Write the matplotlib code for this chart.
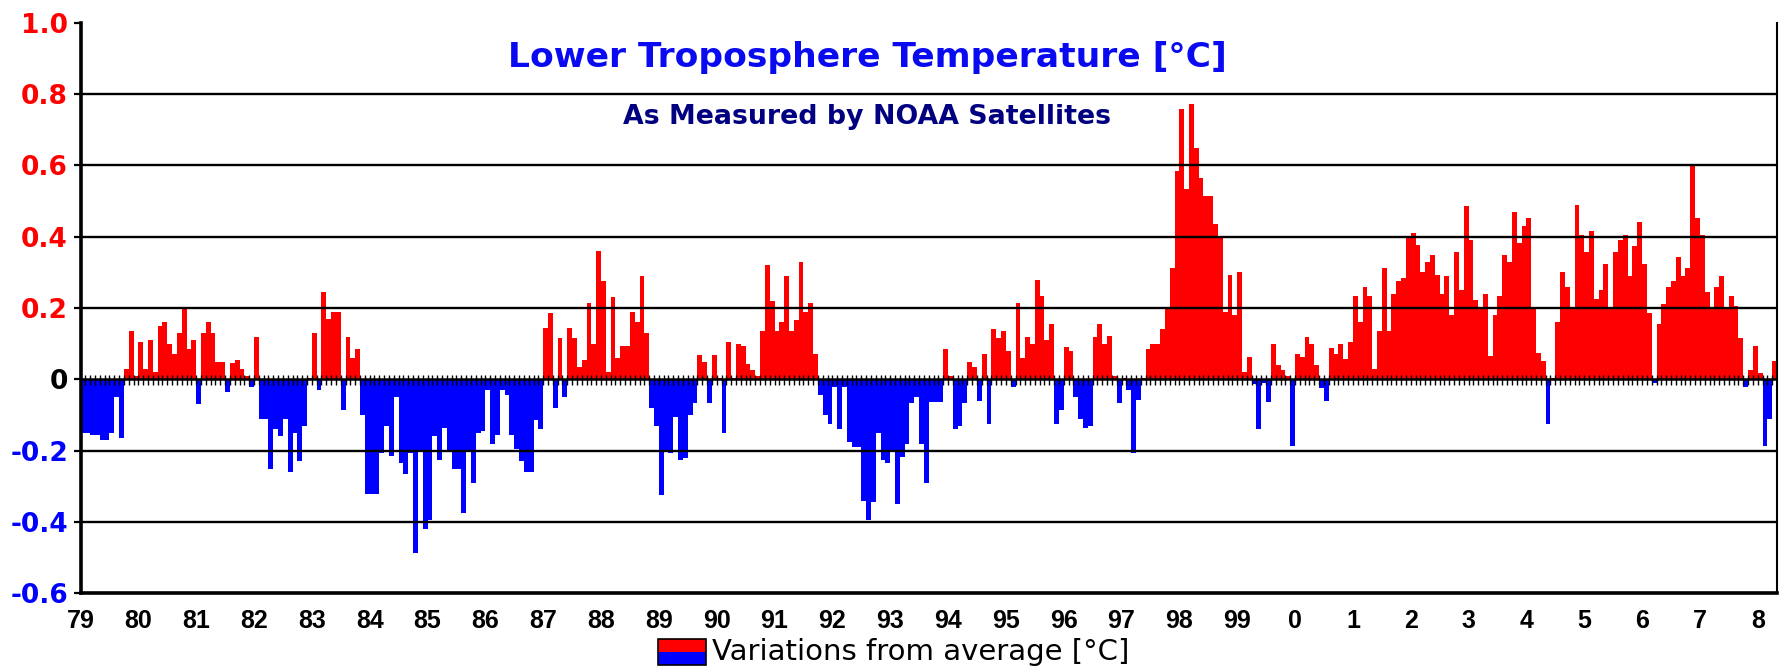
import matplotlib
matplotlib.use("Agg")
import matplotlib.pyplot as plt
from matplotlib.patches import Rectangle
import numpy as np

W, H, DPI = 1779, 669, 100

# Monthly anomalies [°C] (first bar at the left axis)
y1979 = [-0.15, -0.15, -0.155, -0.155, -0.17, -0.17, -0.15, -0.05, -0.165, 0.03, 0.135, 0.01]
y1980 = [0.105, 0.03, 0.11, 0.02, 0.15, 0.16, 0.10, 0.07, 0.13, 0.20, 0.085, 0.11]
y1981 = [-0.07, 0.13, 0.16, 0.13, 0.05, 0.05, -0.035, 0.045, 0.055, 0.03, 0.01, -0.02]
y1982 = [0.12, -0.11, -0.11, -0.25, -0.14, -0.16, -0.11, -0.26, -0.15, -0.23, -0.13, 0.005]
y1983 = [0.13, -0.03, 0.245, 0.17, 0.19, 0.19, -0.085, 0.12, 0.06, 0.085, -0.1, -0.32]
y1984 = [-0.32, -0.32, -0.205, -0.13, -0.215, -0.05, -0.235, -0.265, -0.205, -0.487, -0.2, -0.42]
y1985 = [-0.395, -0.16, -0.225, -0.135, -0.2, -0.25, -0.25, -0.375, -0.2, -0.29, -0.15, -0.145]
y1986 = [-0.03, -0.18, -0.155, -0.03, -0.045, -0.155, -0.195, -0.23, -0.26, -0.26, -0.115, -0.14]
y1987 = [0.145, 0.185, -0.08, 0.115, -0.05, 0.145, 0.115, 0.035, 0.055, 0.215, 0.1, 0.36]
y1988 = [0.275, 0.02, 0.23, 0.06, 0.095, 0.095, 0.19, 0.16, 0.29, 0.13, -0.08, -0.13]
y1989 = [-0.325, -0.2, -0.205, -0.105, -0.225, -0.22, -0.1, -0.065, 0.068, 0.05, -0.065, 0.068]
y1990 = [0.005, -0.15, 0.105, 0.005, 0.1, 0.093, 0.044, 0.026, 0.01, 0.135, 0.32, 0.22]
y1991 = [0.135, 0.16, 0.29, 0.135, 0.166, 0.33, 0.19, 0.215, 0.07, -0.045, -0.1, -0.125]
y1992 = [-0.02, -0.14, -0.02, -0.175, -0.19, -0.19, -0.34, -0.395, -0.345, -0.15, -0.225, -0.235]
y1993 = [-0.2, -0.35, -0.217, -0.18, -0.065, -0.05, -0.18, -0.29, -0.063, -0.063, -0.063, 0.085]
y1994 = [0.01, -0.14, -0.13, -0.065, 0.05, 0.035, -0.06, 0.07, -0.125, 0.14, 0.115, 0.135]
y1995 = [0.08, -0.02, 0.215, 0.06, 0.12, 0.1, 0.28, 0.235, 0.11, 0.155, -0.125, -0.085]
y1996 = [0.09, 0.08, -0.05, -0.11, -0.135, -0.13, 0.118, 0.154, 0.10, 0.123, 0.01, -0.065]
y1997 = [0.005, -0.03, -0.205, -0.058, 0.005, 0.086, 0.1, 0.1, 0.142, 0.2, 0.312, 0.585]
y1998 = [0.758, 0.534, 0.771, 0.648, 0.564, 0.515, 0.515, 0.435, 0.398, 0.19, 0.294, 0.18]
y1999 = [0.3, 0.02, 0.062, -0.014, -0.138, -0.01, -0.063, 0.1, 0.04, 0.026, 0.01, -0.188]
y2000 = [0.07, 0.062, 0.12, 0.1, 0.04, -0.023, -0.06, 0.087, 0.07, 0.1, 0.056, 0.105]
y2001 = [0.233, 0.16, 0.258, 0.233, 0.028, 0.135, 0.312, 0.135, 0.24, 0.277, 0.283, 0.398]
y2002 = [0.41, 0.378, 0.3, 0.33, 0.35, 0.294, 0.24, 0.29, 0.18, 0.356, 0.25, 0.485]
y2003 = [0.39, 0.222, 0.203, 0.238, 0.065, 0.18, 0.233, 0.35, 0.328, 0.47, 0.382, 0.43]
y2004 = [0.452, 0.202, 0.075, 0.051, -0.126, 0.005, 0.16, 0.3, 0.258, 0.2, 0.49, 0.405]
y2005 = [0.356, 0.417, 0.224, 0.25, 0.324, 0.203, 0.357, 0.392, 0.404, 0.289, 0.373, 0.44]
y2006 = [0.324, 0.185, -0.01, 0.154, 0.21, 0.258, 0.277, 0.343, 0.289, 0.312, 0.6, 0.452]
y2007 = [0.404, 0.245, 0.203, 0.258, 0.289, 0.203, 0.233, 0.207, 0.117, -0.02, 0.025, 0.095]
y2008 = [0.019, -0.187, -0.112, 0.051]

year_labels = ["79", "80", "81", "82", "83", "84", "85", "86", "87", "88", "89",
               "90", "91", "92", "93", "94", "95", "96", "97", "98", "99",
               "0", "1", "2", "3", "4", "5", "6", "7", "8"]
ytick_values = [-0.6, -0.4, -0.2, 0.0, 0.2, 0.4, 0.6, 0.8, 1.0]
ytick_labels = ["-0.6", "-0.4", "-0.2", "0", "0.2", "0.4", "0.6", "0.8", "1.0"]

title = "Lower Troposphere Temperature [°C]"
subtitle = "As Measured by NOAA Satellites"
legend_label = "Variations from average [°C]"

values = np.array(y1979 + y1980 + y1981 + y1982 + y1983 + y1984 + y1985 + y1986 +
                  y1987 + y1988 + y1989 + y1990 + y1991 + y1992 + y1993 + y1994 +
                  y1995 + y1996 + y1997 + y1998 + y1999 + y2000 + y2001 + y2002 +
                  y2003 + y2004 + y2005 + y2006 + y2007 + y2008)
n = len(values)
x = np.arange(n)

RED = "#FF0000"
BLUE = "#0000FF"

fig = plt.figure(figsize=(W / DPI, H / DPI), dpi=DPI)
fig.patch.set_facecolor("white")
left_px, right_px, top_px, bot_px = 80.5, 1777.0, 22.7, 593.4
ax = fig.add_axes([left_px / W, 1 - bot_px / H, (right_px - left_px) / W, (bot_px - top_px) / H])

colors = np.where(values >= 0, RED, BLUE)
ax.bar(x, values, width=1.0, align="edge", color=colors, linewidth=0,
       antialiased=False, zorder=2)

ax.set_xlim(0, n)
ax.set_ylim(-0.6, 1.0)

# grid lines (drawn over the bars)
for v in ytick_values[1:-1]:
    if v != 0:
        ax.axhline(v, color="black", lw=1.7, zorder=3)
ax.axhline(0, color="black", lw=1.8, zorder=4)
# monthly tick marks along the zero line
ax.vlines(np.arange(1, n), -0.017, 0.013, color="black", lw=1.0, zorder=4)

# spines
for s in ["left", "bottom"]:
    ax.spines[s].set_linewidth(2.6)
    ax.spines[s].set_color("black")
ax.spines["right"].set_linewidth(1.5)
ax.spines["top"].set_visible(False)

# y ticks
ax.set_yticks(ytick_values)
ax.set_yticklabels(ytick_labels)
ax.tick_params(axis="y", length=5, width=1.6, pad=4, labelsize=19)
for lab, v in zip(ax.get_yticklabels(), ytick_values):
    lab.set_fontfamily("DejaVu Sans")
    lab.set_fontweight("bold")
    lab.set_color(RED if v > 0 else (BLUE if v < 0 else "black"))

# x ticks: one per year
ax.set_xticks(np.arange(0, 12 * len(year_labels), 12))
ax.set_xticklabels(year_labels)
ax.tick_params(axis="x", length=0, pad=11, labelsize=18)
for lab in ax.get_xticklabels():
    lab.set_fontfamily("Liberation Sans")
    lab.set_fontweight("bold")

# titles
fig.text(867 / W, 1 - 57 / H, title, ha="center", va="center", color="#0A0AF0",
         fontsize=24.8, fontweight="bold", family="DejaVu Sans")
fig.text(867 / W, 1 - 117 / H, subtitle, ha="center", va="center", color="#000080",
         fontsize=19.3, fontweight="bold", family="DejaVu Sans")

# legend swatch + label
lx0, lx1, ly0, ly1 = 658, 706, 639, 665
fig.patches.append(Rectangle((lx0 / W, 1 - (ly0 + ly1) / 2 / H), (lx1 - lx0) / W,
                             (ly1 - ly0) / 2 / H, transform=fig.transFigure,
                             facecolor=RED, edgecolor="none"))
fig.patches.append(Rectangle((lx0 / W, 1 - ly1 / H), (lx1 - lx0) / W,
                             (ly1 - ly0) / 2 / H, transform=fig.transFigure,
                             facecolor=BLUE, edgecolor="none"))
fig.patches.append(Rectangle((lx0 / W, 1 - ly1 / H), (lx1 - lx0) / W,
                             (ly1 - ly0) / H, transform=fig.transFigure,
                             facecolor="none", edgecolor="black", lw=1.2))
fig.text(712 / W, 1 - 652 / H, legend_label, ha="left", va="center", color="black",
         fontsize=21, family="DejaVu Sans")

fig.savefig("out.png", dpi=DPI, facecolor="white")
